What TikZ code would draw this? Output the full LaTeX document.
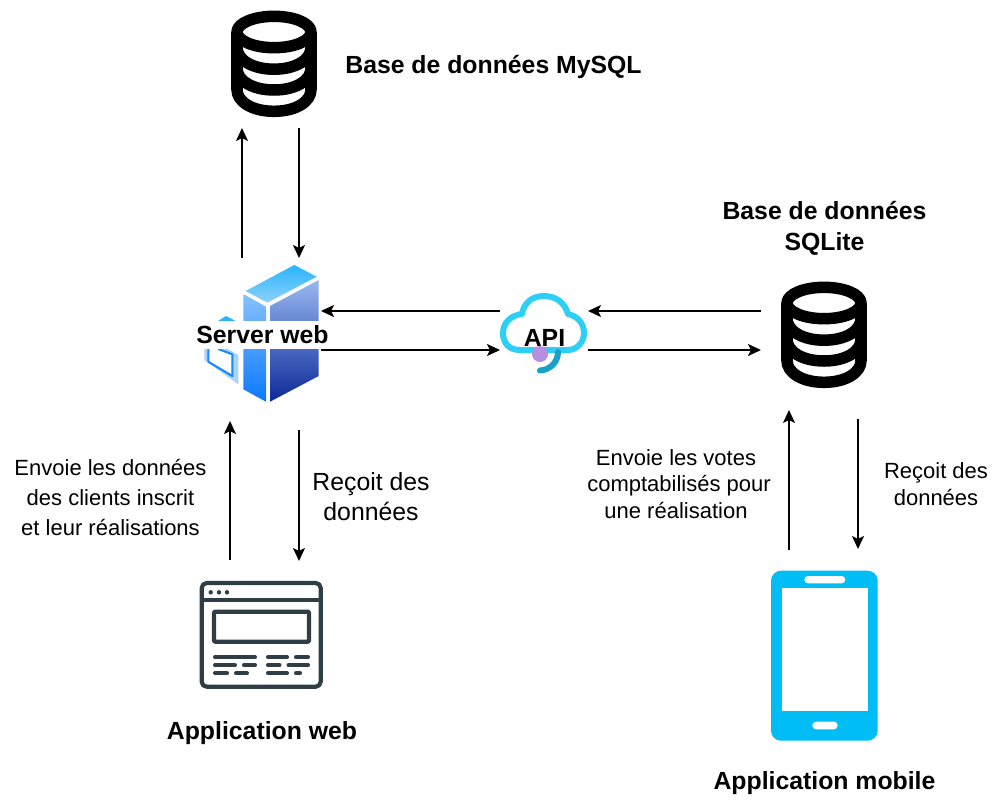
\documentclass[tikz,border=0pt]{standalone}
\usepackage{fontspec}
\setmainfont{Liberation Sans}
\usetikzlibrary{arrows.meta}
\definecolor{dbblack}{HTML}{000000}
\definecolor{webicon}{HTML}{2F3D46}
\definecolor{phoneblue}{HTML}{00BEF5}
\definecolor{cloudblue}{HTML}{2CD0F5}
\definecolor{tailblue}{HTML}{1BA0C8}
\definecolor{apipurple}{HTML}{B78EE0}
\definecolor{srvA}{HTML}{27B4FC}\definecolor{srvB}{HTML}{8FD2FA}
\definecolor{srvC}{HTML}{86C2FB}\definecolor{srvD}{HTML}{0A78FF}
\definecolor{srvE}{HTML}{98B8F0}\definecolor{srvF}{HTML}{0B2A9A}
\definecolor{frameL}{HTML}{A9D4FD}\definecolor{frameD}{HTML}{1A86FF}
\tikzset{
  flow/.style={draw=black,line width=1.9pt,-{Stealth[length=13pt,width=12pt,inset=3pt]}},
  boldlabel/.style={inner sep=0pt,align=center,font=\fontsize{24.8}{31}\selectfont\bfseries},
  biglabel/.style={inner sep=0pt,align=center,font=\fontsize{24.8}{30.5}\selectfont},
  smalllabel/.style={inner sep=0pt,align=center,font=\fontsize{22}{30}\selectfont},
  midlabel/.style={inner sep=0pt,align=center,font=\fontsize{22}{26.5}\selectfont},
  dbstroke/.style={draw=dbblack,line width=11.5pt,line join=round},
  webstroke/.style={draw=webicon,line width=4.2pt,line join=round},
  webtext/.style={draw=webicon,line width=4pt,line cap=round},
  dbicon/.pic={
    \draw[dbstroke] (0,0) ellipse [x radius=37,y radius=15.7];
    \draw[dbstroke] (-37,0) -- (-37,58);
    \draw[dbstroke] (37,0) -- (37,58);
    \foreach \c in {21.5,42.3,63.6}
      \draw[dbstroke,line cap=round] (-37,\c-6) .. controls (-37,\c+6) and (-22,\c+15.7) .. (0,\c+15.7)
        .. controls (22,\c+15.7) and (37,\c+6) .. (37,\c-6);
  }
}
\begin{document}
\begin{tikzpicture}[x=1pt,y=-1pt]
\useasboundingbox (0,0) rectangle (1001,801);
% database icons
\pic at (274,32) {dbicon};
\pic at (824,303) {dbicon};
% server icon: small cube
\fill[srvA] (218,321) -- (226,316) -- (235.7,321) -- cycle;
\fill[frameL] (204.3,335) -- (238.3,355) -- (238.3,384.3) -- (204.3,360) -- cycle;
\fill[white] (208.3,344) -- (232.3,354.3) -- (232.3,376) -- (208.3,361.7) -- cycle;
\draw[frameD,line width=2pt,line join=round] (208.3,344) -- (208.3,361.7) -- (232.3,376) -- (232.3,354.3) -- (218.3,349);
% server icon: tower
\shade[top color=srvA,bottom color=srvB] (294.3,265) -- (316.7,276.7) -- (267.3,302.7) -- (245.7,291) -- cycle;
\shade[top color=srvC,bottom color=srvD] (243.3,294) -- (266,306.7) -- (266,401.7) -- (243.3,389.3) -- cycle;
\shade[top color=srvE,bottom color=srvF] (270,306) -- (318.7,280) -- (318.7,376) -- (270,401.7) -- cycle;
% api cloud
\draw[cloudblue,line width=6pt,line join=round] (520,350) .. controls (508,350) and (503,342) .. (503,333)
  .. controls (503,322) and (512,315) .. (522,314) .. controls (524,302) and (533,296) .. (544,296)
  .. controls (556,296) and (565,303) .. (568,314) .. controls (577,316) and (584,323) .. (584,333)
  .. controls (584,342) and (577,350) .. (568,350) -- cycle;
\draw[tailblue,line width=6pt,line cap=round] (558,352) .. controls (558,362) and (550,370) .. (540,370.5);
\fill[apipurple] (540,354) circle [radius=8];
% web page icon
\draw[webstroke,rounded corners=5pt] (201.7,583) rectangle (320.7,686.7);
\draw[webstroke] (201.7,600) -- (320.7,600);
\fill[webicon] (210.7,592.3) circle [radius=2.2] (219,592.3) circle [radius=2.2] (227,592.3) circle [radius=2.2];
\draw[webstroke,rounded corners=1pt] (214,611.7) rectangle (309,641.7);
\draw[webtext] (215,657.3) -- (255,657.3) (268,657.3) -- (287,657.3) (296,657.3) -- (308,657.3);
\draw[webtext] (215,665.3) -- (235,665.3) (244,665.3) -- (255,665.3) (268,665.3) -- (279.5,665.3) (288.5,665.3) -- (308,665.3);
\draw[webtext] (215,673.3) -- (227,673.3) (236,673.3) -- (247,673.3) (268,673.3) -- (287,673.3) (296,673.3) -- (300,673.3);
% phone icon
\fill[phoneblue,rounded corners=10pt] (771,570.7) rectangle (877.7,740.7);
\fill[white] (782,588.3) rectangle (867.7,711);
\fill[white,rounded corners=3.6pt] (804.3,576) rectangle (845.3,583.3);
\fill[white,rounded corners=3.7pt] (812.3,721.7) rectangle (837.7,729.3);
% labels
\node[boldlabel] (mysql) at (493.5,67) {Base de données MySQL};
\node[boldlabel] (sqlite) at (824.5,228) {Base de données\\SQLite};
\node[boldlabel,fill=white,minimum height=28.4pt] (server) at (262.5,335) {Server web};
\node[boldlabel] (api) at (544.5,337.5) {API};
\node[boldlabel] (webapp) at (262,733) {Application web};
\node[boldlabel] (mobile) at (824.5,783) {Application mobile};
\node[smalllabel] (sendweb) at (110.5,497.5) {Envoie les données\\des clients inscrit\\et leur réalisations};
\node[biglabel] (recvweb) at (371,496.5) {Reçoit des\\données};
\node[midlabel] (sendmob) at (679,484) {Envoie les votes\kern6pt\relax\\comptabilisés pour\\une réalisation\kern6pt\relax};
\node[midlabel] (recvmob) at (936,484) {Reçoit des\\données};
% connector ends
\coordinate (a1) at (242,258); \coordinate (a2) at (242,128);
\coordinate (b1) at (299,128); \coordinate (b2) at (299,258);
\coordinate (c1) at (500,311); \coordinate (c2) at (321,311);
\coordinate (d1) at (321,350); \coordinate (d2) at (500,350);
\coordinate (e1) at (761,311); \coordinate (e2) at (588,311);
\coordinate (f1) at (588,350); \coordinate (f2) at (761,350);
\coordinate (g1) at (230,560); \coordinate (g2) at (230,421);
\coordinate (h1) at (299,430); \coordinate (h2) at (299,561);
\coordinate (i1) at (789,550); \coordinate (i2) at (789,410);
\coordinate (j1) at (858,419); \coordinate (j2) at (858,549);
\foreach \s/\t in {a1/a2,b1/b2,c1/c2,d1/d2,e1/e2,f1/f2,g1/g2,h1/h2,i1/i2,j1/j2}
  \draw[flow] (\s) -- (\t);
\end{tikzpicture}
\end{document}
